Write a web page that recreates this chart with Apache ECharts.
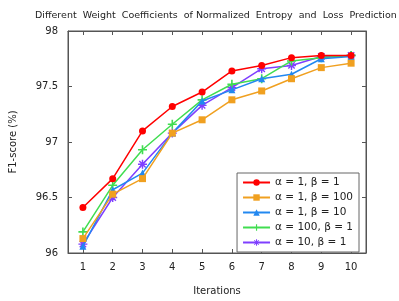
<!DOCTYPE html>
<html><head><meta charset="utf-8">
<script src="https://cdn.jsdelivr.net/npm/echarts@6/dist/echarts.min.js"></script>
<style>html,body{margin:0;padding:0;background:#fff}#c{width:399px;height:301px}</style>
</head><body><div id="c"></div>
<script>
const categories = ['1','2','3','4','5','6','7','8','9','10'];
const yTicks = [96, 96.5, 97, 97.5, 98];
const s_a1_b1   = [96.41, 96.67, 97.10, 97.32, 97.45, 97.64, 97.69, 97.76, 97.78, 97.78];
const s_a1_b100 = [96.13, 96.53, 96.67, 97.08, 97.20, 97.38, 97.46, 97.57, 97.67, 97.71];
const s_a1_b10  = [96.06, 96.57, 96.72, 97.08, 97.37, 97.47, 97.57, 97.61, 97.75, 97.77];
const s_a100_b1 = [96.19, 96.61, 96.93, 97.16, 97.38, 97.52, 97.57, 97.73, 97.76, 97.78];
const s_a10_b1  = [96.08, 96.50, 96.80, 97.08, 97.33, 97.49, 97.66, 97.69, 97.77, 97.78];
const names = ['α = 1, β = 1','α = 1, β = 100','α = 1, β = 10','α = 100, β = 1','α = 10, β = 1'];

const plusPath = 'path://M-0.9,-5H0.9V-0.9H5V0.9H0.9V5H-0.9V0.9H-5V-0.9H-0.9Z';
const starPath = 'path://M-0.8,-5H0.8V-0.8H5V0.8H0.8V5H-0.8V0.8H-5V-0.8H-0.8Z M-4.1,-3L-3,-4.1L4.1,3L3,4.1Z M3,-4.1L4.1,-3L-3,4.1L-4.1,3Z';

const colors = ['#ff0000','#f0a020','#2288f0','#40dd50','#7f3fff'];
const symbols = ['circle','rect','triangle',plusPath,starPath];
const sizes = [7,7,7,9,9];
const datas = [s_a1_b1, s_a1_b100, s_a1_b10, s_a100_b1, s_a10_b1];
const font = 'DejaVu Sans';

const chart = echarts.init(document.getElementById('c'), null, {renderer:'canvas'});
const axisLineStyle = {color:'#555', width:1};
const commonX = {
  type:'category', data: categories, boundaryGap:true,
  axisTick:{show:true, inside:true, alignWithLabel:true, length:4, lineStyle:{color:'#555'}},
  axisLine:{show:true, onZero:false, lineStyle:axisLineStyle}, splitLine:{show:false}
};
const commonY = {
  type:'value', min:96, max:98, interval:0.5,
  axisTick:{show:true, inside:true, length:4, lineStyle:{color:'#555'}},
  axisLine:{show:true, onZero:false, lineStyle:axisLineStyle}, splitLine:{show:false}
};
chart.setOption({
  animation:false,
  title:{text:'Different  Weight  Coefficients  of Normalized  Entropy  and  Loss  Prediction', left:30, top:6,
    textStyle:{fontFamily:font, fontSize:9.5, fontWeight:'normal', color:'#222'}},
  grid:{left:64, right:33, top:31, bottom:44, show:true, borderColor:'#555', borderWidth:1, backgroundColor:'transparent'},
  xAxis:[
    Object.assign({}, commonX, {position:'bottom', name:'Iterations', nameLocation:'middle', nameGap:33,
      nameTextStyle:{fontFamily:font, fontSize:10, color:'#222'},
      axisLabel:{fontFamily:font, fontSize:10, color:'#222', margin:9}}),
    Object.assign({}, commonX, {position:'top', axisLabel:{show:false}})
  ],
  yAxis:[
    Object.assign({}, commonY, {position:'left', name:'F1-score (%)', nameLocation:'middle', nameGap:50,
      nameTextStyle:{fontFamily:font, fontSize:10, color:'#222'},
      axisLabel:{fontFamily:font, fontSize:10, color:'#222', margin:10,
        formatter: v => yTicks.indexOf(v) >= 0 ? String(v) : ''}}),
    Object.assign({}, commonY, {position:'right', axisLabel:{show:false}})
  ],
  legend:{
    right:40, top:173, orient:'vertical', itemWidth:27, itemHeight:8, itemGap:4,
    backgroundColor:'#fff', borderColor:'#666', borderWidth:1, padding:[4,6,4,5],
    textStyle:{fontFamily:font, fontSize:10.5, color:'#222'},
    data: names
  },
  series: datas.map((d,i)=>({
    name:names[i], type:'line', data:d, xAxisIndex:0, yAxisIndex:0,
    symbol:symbols[i], symbolSize:sizes[i], showAllSymbol:true,
    lineStyle:{color:colors[i], width:1.5}, itemStyle:{color:colors[i]},
    z: 10 - i
  }))
});
</script></body></html>
